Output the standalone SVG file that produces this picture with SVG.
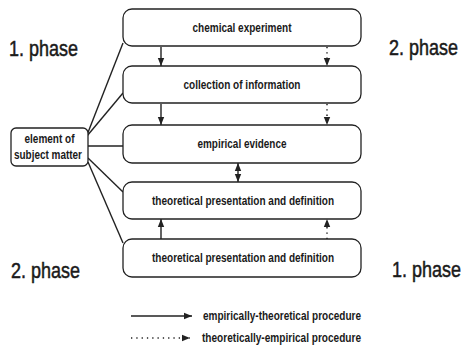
<svg xmlns="http://www.w3.org/2000/svg" width="464" height="347" viewBox="0 0 464 347">
<defs>
<style>
.box{fill:#fff;stroke:#222;stroke-width:1.3}
.ln{stroke:#222;stroke-width:1.4;fill:none}
.dot{stroke:#222;stroke-width:1.5;fill:none;stroke-dasharray:1.3 4}
.t{font-family:"Liberation Sans",Arial,sans-serif;font-weight:bold;font-size:12.5px;fill:#1a1a1a;text-anchor:middle}
.lg{font-family:"Liberation Sans",Arial,sans-serif;font-weight:bold;font-size:12.5px;fill:#1a1a1a}
.ph{font-family:"Liberation Sans",Arial,sans-serif;font-size:18px;fill:#1a1a1a;stroke:#1a1a1a;stroke-width:0.4}
</style>
<marker id="ah" viewBox="0 0 10 10" refX="10" refY="5" markerWidth="8" markerHeight="8" markerUnits="userSpaceOnUse" orient="auto-start-reverse">
<path d="M0,1 L10,5 L0,9 z" fill="#222"/>
</marker>
</defs>

<g id="phase-labels">
<text class="ph" transform="translate(9,56) scale(1,1.22)">1. phase</text>
<text class="ph" transform="translate(389,55) scale(1,1.22)">2. phase</text>
<text class="ph" transform="translate(11,278) scale(1,1.22)">2. phase</text>
<text class="ph" transform="translate(392,277) scale(1,1.22)">1. phase</text>
</g>

<g id="connectors">
<line class="ln" x1="87" y1="135" x2="123" y2="43"/>
<line class="ln" x1="87" y1="136" x2="123" y2="93"/>
<line class="ln" x1="88" y1="146" x2="123" y2="146"/>
<line class="ln" x1="88" y1="158" x2="123" y2="192"/>
<line class="ln" x1="88" y1="162" x2="123" y2="243"/>
<line class="ln" x1="161" y1="47" x2="161" y2="66" marker-end="url(#ah)"/>
<line class="ln" x1="161" y1="104" x2="161" y2="125" marker-end="url(#ah)"/>
<line class="ln" x1="161" y1="239" x2="161" y2="219" marker-end="url(#ah)"/>
<line class="dot" x1="327" y1="47" x2="327" y2="66" marker-end="url(#ah)"/>
<line class="dot" x1="327" y1="104" x2="327" y2="125" marker-end="url(#ah)"/>
<line class="dot" x1="327" y1="239" x2="327" y2="219" marker-end="url(#ah)"/>
<line class="ln" x1="238" y1="163" x2="238" y2="182" marker-start="url(#ah)" marker-end="url(#ah)"/>
</g>

<g id="element">
<rect class="box" x="11" y="128" width="77" height="38" rx="5"/>
<text class="t" x="49.5" y="143" textLength="50" lengthAdjust="spacingAndGlyphs">element of</text>
<text class="t" x="48" y="159" textLength="68" lengthAdjust="spacingAndGlyphs">subject matter</text>
</g>

<g id="chemical-experiment">
<rect class="box" x="123" y="9" width="238" height="37" rx="9"/>
<text class="t" x="242" y="31.5" textLength="99" lengthAdjust="spacingAndGlyphs">chemical experiment</text>
</g>
<g id="collection-of-information">
<rect class="box" x="123" y="66" width="238" height="37" rx="9"/>
<text class="t" x="242" y="88.5" textLength="117" lengthAdjust="spacingAndGlyphs">collection of information</text>
</g>
<g id="empirical-evidence">
<rect class="box" x="123" y="125" width="238" height="38" rx="9"/>
<text class="t" x="242" y="148" textLength="89" lengthAdjust="spacingAndGlyphs">empirical evidence</text>
</g>
<g id="theoretical-1">
<rect class="box" x="123" y="182" width="238" height="37" rx="9"/>
<text class="t" x="243" y="204.5" textLength="182" lengthAdjust="spacingAndGlyphs">theoretical presentation and definition</text>
</g>
<g id="theoretical-2">
<rect class="box" x="123" y="239" width="238" height="38" rx="9"/>
<text class="t" x="243" y="262" textLength="182" lengthAdjust="spacingAndGlyphs">theoretical presentation and definition</text>
</g>

<g id="legend">
<line class="ln" x1="131" y1="316" x2="192" y2="316" marker-end="url(#ah)"/>
<text class="lg" x="203" y="320" textLength="158" lengthAdjust="spacingAndGlyphs">empirically-theoretical procedure</text>
<line class="dot" x1="131" y1="338" x2="190" y2="338" marker-end="url(#ah)"/>
<text class="lg" x="202" y="342" textLength="159" lengthAdjust="spacingAndGlyphs">theoretically-empirical procedure</text>
</g>
</svg>
